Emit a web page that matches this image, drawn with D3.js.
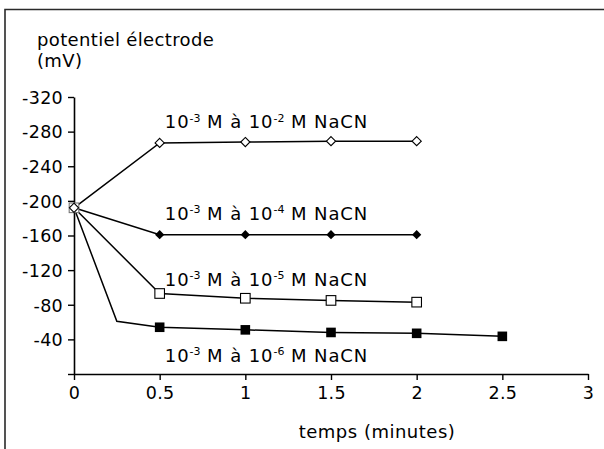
<!DOCTYPE html>
<html><head><meta charset="utf-8">
<script src="https://cdn.jsdelivr.net/npm/d3@7"></script>
<style>
html,body{margin:0;padding:0;background:#fff;}
svg{display:block;font-family:"DejaVu Sans",sans-serif;}
</style></head>
<body>
<svg id="c" width="604" height="449"></svg>
<script>
// ---- data ----
const xTicks = [0, 0.5, 1, 1.5, 2, 2.5, 3];
const yTicks = [0, -40, -80, -120, -160, -200, -240, -280, -320];
const yTickLabels = ["", "-40", "-80", "-120", "-160", "-200", "-240", "-280", "-320"];

const times1 = [0, 0.5, 1, 1.5, 2];
const values1 = [-192, -267, -268, -269, -269];      // 10-3 -> 10-2
const times2 = [0, 0.5, 1, 1.5, 2];
const values2 = [-192, -161, -161, -161, -161];      // 10-3 -> 10-4
const times3 = [0, 0.5, 1, 1.5, 2];
const values3 = [-192, -93, -87.5, -85, -83];        // 10-3 -> 10-5
const times4 = [0, 0.25, 0.5, 1, 1.5, 2, 2.5];
const values4 = [-192, -61, -54, -51, -48, -47, -43.5]; // 10-3 -> 10-6

const seriesExp = ["-2", "-4", "-5", "-6"];
const labelX = [0.53, 0.53, 0.53, 0.53];
const labelY = [-284, -178, -102, -14];

const yTitle = ["potentiel électrode", "(mV)"];
const xTitle = "temps (minutes)";

// ---- layout ----
const svg = d3.select("#c");
const x = d3.scaleLinear().domain([0, 3]).range([74, 588]);
const y = d3.scaleLinear().domain([0, -320]).range([374, 97]);

// frame
svg.append("path").attr("d", "M5,449 V9.5 H604")
  .attr("fill", "none").attr("stroke", "#2a2a2a").attr("stroke-width", 1.6);

// axes
const yAxis = d3.axisLeft(y).tickValues(yTicks)
  .tickFormat((d, i) => yTickLabels[i]).tickSize(6).tickPadding(5).tickSizeOuter(0);
const gy = svg.append("g").attr("transform", `translate(${x(0)},0)`).call(yAxis);
const xAxis = d3.axisBottom(x).tickValues(xTicks)
  .tickFormat(d => d3.format("")(d)).tickSize(6).tickPadding(6).tickSizeOuter(0);
const gx = svg.append("g").attr("transform", `translate(0,${y(0)})`).call(xAxis);
[gx, gy].forEach(g => {
  g.select(".domain").attr("stroke", "#000").attr("stroke-width", 1.6);
  g.selectAll(".tick line").attr("stroke", "#000").attr("stroke-width", 1.4);
  g.selectAll(".tick text").attr("fill", "#000").style("font-size", "17.5px")
    .style("font-family", "DejaVu Sans").style("letter-spacing", "0.3px");
});
gy.selectAll(".tick text").attr("dy", "0.36em");
gx.selectAll(".tick text").attr("dy", "0.72em");

// titles
svg.append("text").attr("x", 37).attr("y", 45.5).text(yTitle[0])
  .style("font-size", "18px").style("letter-spacing", "0.35px");
svg.append("text").attr("x", 37).attr("y", 67).text(yTitle[1])
  .style("font-size", "18px").style("letter-spacing", "0.35px");
svg.append("text").attr("x", 377).attr("y", 438).attr("text-anchor", "middle")
  .text(xTitle).style("font-size", "18px").style("letter-spacing", "0.5px");

// lines
const allSeries = [
  {t: times1, v: values1, marker: "openDiamond", skip: []},
  {t: times2, v: values2, marker: "filledDiamond", skip: [0]},
  {t: times3, v: values3, marker: "openSquare", skip: []},
  {t: times4, v: values4, marker: "filledSquare", skip: [0, 0.25]},
];
const line = d3.line().x(d => x(d[0])).y(d => y(d[1]));
allSeries.forEach(s => {
  const pts = s.t.map((t, i) => [t, s.v[i]]);
  svg.append("path").attr("d", line(pts)).attr("fill", "none")
    .attr("stroke", "#000").attr("stroke-width", 1.5);
});

// markers (draw bottom series first so open diamond sits on top at t=0)
[3, 2, 1, 0].forEach(k => {
  const s = allSeries[k];
  const pts = s.t.map((t, i) => [t, s.v[i]]).filter(p => !s.skip.includes(p[0]));
  const g = svg.append("g");
  pts.forEach(p => {
    const cx = x(p[0]), cy = y(p[1]);
    if (s.marker === "openDiamond") {
      const r = 4.6;
      g.append("path").attr("d", `M${cx},${cy - r}L${cx + r},${cy}L${cx},${cy + r}L${cx - r},${cy}Z`)
        .attr("fill", "#fff").attr("stroke", "#000").attr("stroke-width", 1.1);
    } else if (s.marker === "filledDiamond") {
      const r = 4.6;
      g.append("path").attr("d", `M${cx},${cy - r}L${cx + r},${cy}L${cx},${cy + r}L${cx - r},${cy}Z`)
        .attr("fill", "#000");
    } else if (s.marker === "openSquare") {
      const h = 4.8;
      g.append("rect").attr("x", cx - h).attr("y", cy - h).attr("width", 2 * h).attr("height", 2 * h)
        .attr("fill", "#fff").attr("stroke", p[0] === 0 ? "#777" : "#000").attr("stroke-width", 1.1);
    } else {
      const h = 4.8;
      g.append("rect").attr("x", cx - h).attr("y", cy - h).attr("width", 2 * h).attr("height", 2 * h)
        .attr("fill", "#000");
    }
  });
});

// series labels
seriesExp.forEach((e, i) => {
  const t = svg.append("text").attr("x", x(labelX[i])).attr("y", y(labelY[i]))
    .style("font-size", "18px").style("letter-spacing", "0.9px").attr("fill", "#000");
  t.append("tspan").text("10");
  t.append("tspan").text("-3").style("font-size", "11px").style("letter-spacing", "0px").attr("dy", -6.5);
  t.append("tspan").text(" M à 10").attr("dy", 6.5);
  t.append("tspan").text(e).style("font-size", "11px").style("letter-spacing", "0px").attr("dy", -6.5);
  t.append("tspan").text(" M NaCN").attr("dy", 6.5);
});
</script>
</body></html>
